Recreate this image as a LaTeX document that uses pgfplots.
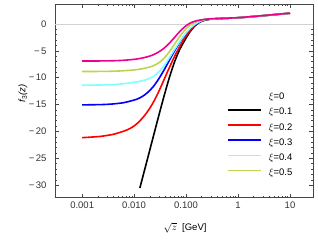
\documentclass[border=0pt]{standalone}
\usepackage{fontspec}
\setmainfont{Liberation Sans}
\usepackage{pgfplots}
\pgfplotsset{compat=1.18}
\definecolor{ygc}{RGB}{190,212,80}
\definecolor{cyc}{RGB}{128,255,255}
\definecolor{frm}{RGB}{70,70,70}
\begin{document}
\begin{tikzpicture}
\begin{axis}[
  scale only axis, width=258bp, height=193.5bp,
  xmode=log, xmin=3.0e-4, xmax=27.7,
  ymin=-32.28, ymax=3.71,
  xtick={0.001,0.01,0.1,1,10},
  xticklabels={0.001,0.010,0.100,1,10},
  ytick={-30,-25,-20,-15,-10,-5,0},
  yticklabels={−\,30,−\,25,−\,20,−\,15,−\,10,−\,5,0},
  minor y tick num=4,
  tick align=inside,
  major tick length=4bp, minor tick length=2bp,
  every tick/.style={frm, line width=0.5bp},
  axis line style={frm, line width=0.7bp},
  tick label style={font=\fontsize{9.5bp}{11bp}\selectfont, text=black!80},
  yticklabel style={xshift=-5bp},
  xticklabel style={yshift=-1bp},
  xlabel={$\sqrt{z}$\ \ [GeV]},
  ylabel={\itshape f\/\textsubscript{\upshape 3}(z)},
  label style={font=\fontsize{9.5bp}{11bp}\selectfont},
  xlabel style={at={(axis description cs:0.504,-0.158)}, anchor=center},
  ylabel style={at={(axis description cs:-0.124,0.537)}, anchor=center},
  legend cell align=left,
  legend image code/.code={\draw[line width=1.6bp, #1] (0bp,2.6bp) -- (33bp,2.6bp);},
  legend style={draw=none, fill=none, inner sep=0pt, at={(axis description cs:0.6667,0.5426)}, anchor=north west,
    font=\fontsize{9.5bp}{11bp}\selectfont, row sep=6.2bp,
    nodes={inner sep=0pt, text height=7bp, text depth=2bp},
    /tikz/every odd column/.style={column sep=7bp}},
  every axis plot/.append style={line width=1.6bp},
]
\addplot[gray!35, line width=0.6bp, forget plot] coordinates {(3.0e-4,0) (27.7,0)};
% xi = 0
\addplot[black, smooth, forget plot] coordinates {
(0.0129,-30.5)(0.01462,-28.5)(0.01841,-24.8)(0.02317,-21.1)(0.02917,-17.4)(0.03673,-13.8)(0.04624,-10.4)(0.05821,-7.4)(0.07328,-5.0)(0.09226,-3.2)(0.1161,-1.6)(0.1462,-0.4)(0.1841,0.35)(0.2317,0.72)(0.2917,0.88)(0.3673,0.96)(0.5821,1.05)(1,1.15)(3.162,1.55)(10,2.0)};
% xi = 0.1
\addplot[red, smooth, forget plot] coordinates {
(0.001,-21.15)(0.001462,-21.05)(0.002317,-20.9)(0.003673,-20.6)(0.004624,-20.35)(0.005821,-20.05)(0.007328,-19.7)(0.009226,-19.2)(0.01161,-18.45)(0.01462,-17.45)(0.01841,-16.2)(0.02317,-14.65)(0.02917,-12.75)(0.03673,-10.6)(0.04624,-8.4)(0.05821,-6.3)(0.07328,-4.4)(0.09226,-2.75)(0.1161,-1.4)(0.1462,-0.3)(0.1841,0.38)(0.2317,0.74)(0.2917,0.89)(0.3673,0.96)(0.5821,1.05)(1,1.15)(3.162,1.55)(10,2.0)};
% xi = 0.2
\addplot[blue, smooth, forget plot] coordinates {
(0.001,-15.05)(0.002317,-15.0)(0.003673,-14.9)(0.005821,-14.7)(0.007328,-14.5)(0.009226,-14.25)(0.01161,-13.95)(0.01462,-13.45)(0.01841,-12.7)(0.02317,-11.7)(0.02917,-10.35)(0.03673,-8.75)(0.04624,-7.0)(0.05821,-5.25)(0.07328,-3.6)(0.09226,-2.2)(0.1161,-1.05)(0.1462,-0.2)(0.1841,0.42)(0.2317,0.76)(0.2917,0.9)(0.3673,0.97)(0.5821,1.05)(1,1.15)(3.162,1.55)(10,2.0)};
% xi = 0.3
\addplot[cyc, smooth, forget plot] coordinates {
(0.001,-11.4)(0.002317,-11.35)(0.003673,-11.3)(0.005821,-11.15)(0.007328,-11.05)(0.009226,-10.9)(0.01161,-10.75)(0.01462,-10.55)(0.01841,-10.25)(0.02317,-9.8)(0.02917,-9.0)(0.03673,-7.9)(0.04624,-6.5)(0.05821,-4.95)(0.07328,-3.45)(0.09226,-2.1)(0.1161,-0.95)(0.1462,-0.1)(0.1841,0.47)(0.2317,0.8)(0.2917,0.91)(0.3673,0.97)(0.5821,1.06)(1,1.16)(3.162,1.56)(10,2.01)};
% xi = 0.4
\addplot[ygc, smooth, forget plot] coordinates {
(0.001,-8.85)(0.002317,-8.83)(0.003673,-8.8)(0.005821,-8.72)(0.009226,-8.58)(0.01161,-8.47)(0.01462,-8.32)(0.01841,-8.1)(0.02317,-7.8)(0.02917,-7.3)(0.03673,-6.5)(0.04624,-5.35)(0.05821,-3.95)(0.07328,-2.5)(0.09226,-1.25)(0.1161,-0.3)(0.1462,0.3)(0.1841,0.62)(0.2317,0.84)(0.2917,0.93)(0.3673,0.98)(0.5821,1.07)(1,1.16)(3.162,1.56)(10,2.01)};
% xi = 0.5
\addplot[magenta, smooth, forget plot] coordinates {
(0.001,-6.9)(0.002317,-6.88)(0.003673,-6.85)(0.005821,-6.78)(0.009226,-6.62)(0.01161,-6.5)(0.01462,-6.32)(0.01841,-6.08)(0.02317,-5.75)(0.02917,-5.25)(0.03673,-4.6)(0.04624,-3.7)(0.05821,-2.65)(0.07328,-1.55)(0.09226,-0.6)(0.1161,0.1)(0.1462,0.5)(0.1841,0.72)(0.2317,0.87)(0.2917,0.95)(0.3673,1.0)(0.5821,1.08)(1,1.17)(3.162,1.57)(10,2.02)};
\addlegendimage{empty legend}\addlegendentry{$\xi$=0}
\addlegendimage{black}\addlegendentry{$\xi$=0.1}
\addlegendimage{red}\addlegendentry{$\xi$=0.2}
\addlegendimage{blue}\addlegendentry{$\xi$=0.3}
\addlegendimage{cyc}\addlegendentry{$\xi$=0.4}
\addlegendimage{ygc}\addlegendentry{$\xi$=0.5}
\end{axis}
\pgfresetboundingbox
\path ([shift={(-55bp,-43.5bp)}]current axis.south west) rectangle ([shift={(5bp,4bp)}]current axis.north east);
\end{tikzpicture}
\end{document}
